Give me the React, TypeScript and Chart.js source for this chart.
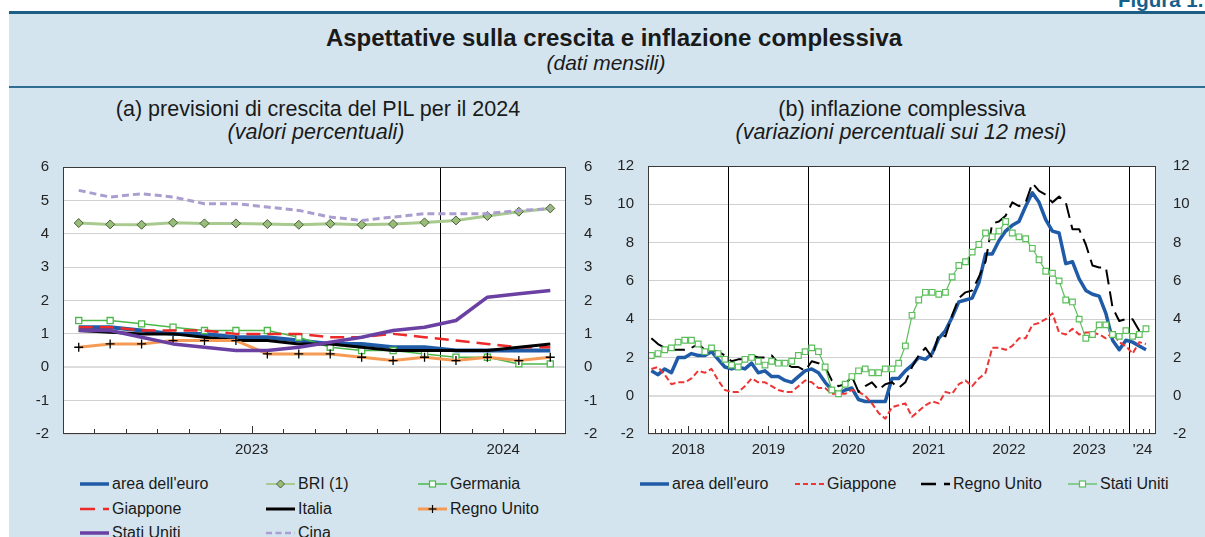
import React, { useEffect, useRef } from "react";
import { Chart, registerables } from "chart.js";

Chart.register(...registerables);

const FONT = "'Liberation Sans', Arial, Helvetica, sans-serif";
const PANEL = "#d3e4ee";
const TICK_COLOR = "#232323";

// ---------------- (a) previsioni di crescita del PIL per il 2024 ----------------
const pilMonths = [
  "2023-01", "2023-02", "2023-03", "2023-04", "2023-05", "2023-06",
  "2023-07", "2023-08", "2023-09", "2023-10", "2023-11", "2023-12",
  "2024-01", "2024-02", "2024-03", "2024-04",
];
const pilYearLabels = ["2023", "2024"];
const pilEuro = [1.2, 1.2, 1.1, 1.0, 1.0, 0.9, 0.9, 0.8, 0.7, 0.7, 0.6, 0.6, 0.5, 0.5, 0.5, 0.5];
const pilBri = [4.32, 4.28, 4.27, 4.33, 4.31, 4.31, 4.29, 4.27, 4.3, 4.27, 4.29, 4.34, 4.4, 4.53, 4.66, 4.76];
const pilGermania = [1.4, 1.4, 1.3, 1.2, 1.1, 1.1, 1.1, 0.9, 0.6, 0.5, 0.5, 0.4, 0.3, 0.3, 0.1, 0.1];
const pilGiappone = [1.2, 1.2, 1.1, 1.1, 1.1, 1.0, 1.0, 1.0, 0.9, 0.9, 1.0, 0.9, 0.8, 0.7, 0.6, 0.6];
const pilItalia = [1.1, 1.05, 1.0, 1.0, 0.9, 0.8, 0.8, 0.7, 0.7, 0.6, 0.5, 0.5, 0.5, 0.5, 0.6, 0.7];
const pilRegnoUnito = [0.6, 0.7, 0.7, 0.8, 0.8, 0.8, 0.4, 0.4, 0.4, 0.3, 0.2, 0.3, 0.2, 0.3, 0.2, 0.3];
const pilStatiUniti = [1.1, 1.1, 0.9, 0.7, 0.6, 0.5, 0.5, 0.6, 0.75, 0.9, 1.1, 1.2, 1.4, 2.1, 2.2, 2.3];
const pilCina = [5.3, 5.1, 5.2, 5.1, 4.9, 4.9, 4.8, 4.7, 4.5, 4.4, 4.5, 4.6, 4.6, 4.6, 4.7, 4.75];
const pilTicks = [-2, -1, 0, 1, 2, 3, 4, 5, 6];

// ---------------- (b) inflazione complessiva ----------------
const inflYears = ["2018", "2019", "2020", "2021", "2022", "2023", "2024"];
const monthCodes = ["01", "02", "03", "04", "05", "06", "07", "08", "09", "10", "11", "12"];
const inflLastMonth = "2024-04";
const inflYearLabels = ["2018", "2019", "2020", "2021", "2022", "2023", "'24"];
const inflEuro = [
  1.3, 1.1, 1.4, 1.2, 2.0, 2.0, 2.2, 2.1, 2.1, 2.3, 1.9, 1.5,
  1.4, 1.5, 1.4, 1.7, 1.2, 1.3, 1.0, 1.0, 0.8, 0.7, 1.0, 1.3,
  1.4, 1.2, 0.7, 0.3, 0.1, 0.3, 0.4, -0.2, -0.3, -0.3, -0.3, -0.3,
  0.9, 0.9, 1.3, 1.6, 2.0, 1.9, 2.2, 3.0, 3.4, 4.1, 4.9, 5.0,
  5.1, 5.9, 7.4, 7.4, 8.1, 8.6, 8.9, 9.1, 9.9, 10.6, 10.1, 9.2,
  8.6, 8.5, 6.9, 7.0, 6.1, 5.5, 5.3, 5.2, 4.3, 2.9, 2.4, 2.9,
  2.8, 2.6, 2.4,
];
const inflGiappone = [
  1.4, 1.5, 1.1, 0.6, 0.7, 0.7, 0.9, 1.3, 1.2, 1.4, 0.8, 0.3,
  0.2, 0.2, 0.5, 0.9, 0.7, 0.7, 0.5, 0.3, 0.2, 0.2, 0.5, 0.8,
  0.7, 0.4, 0.4, 0.1, 0.1, 0.1, 0.3, 0.2, 0.0, -0.4, -0.9, -1.2,
  -0.6, -0.5, -0.4, -1.1, -0.8, -0.5, -0.3, -0.4, 0.2, 0.1, 0.6, 0.8,
  0.5, 0.9, 1.2, 2.5, 2.5, 2.4, 2.6, 3.0, 3.0, 3.7, 3.8, 4.0,
  4.3, 3.3, 3.2, 3.5, 3.2, 3.3, 3.3, 3.2, 3.0, 3.3, 2.8, 2.6,
  2.2, 2.8, 2.7,
];
const inflRegnoUnito = [
  3.0, 2.7, 2.5, 2.4, 2.4, 2.4, 2.5, 2.7, 2.4, 2.4, 2.3, 2.1,
  1.8, 1.9, 1.9, 2.1, 2.0, 2.0, 2.1, 1.7, 1.7, 1.5, 1.5, 1.3,
  1.8, 1.7, 1.5, 0.8, 0.5, 0.6, 1.0, 0.2, 0.5, 0.7, 0.3, 0.6,
  0.7, 0.4, 0.7, 1.5, 2.1, 2.5, 2.0, 3.2, 3.1, 4.2, 5.1, 5.4,
  5.5, 6.2, 7.0, 9.0, 9.1, 9.4, 10.1, 9.9, 10.1, 11.1, 10.7, 10.5,
  10.1, 10.4, 10.1, 8.7, 8.7, 7.9, 6.8, 6.7, 6.7, 4.6, 3.9, 4.0,
  4.0, 3.4, 3.2,
];
const inflStatiUniti = [
  2.1, 2.2, 2.4, 2.5, 2.8, 2.9, 2.9, 2.7, 2.3, 2.5, 2.2, 1.9,
  1.6, 1.5, 1.9, 2.0, 1.8, 1.6, 1.8, 1.7, 1.7, 1.8, 2.1, 2.3,
  2.5, 2.3, 1.5, 0.3, 0.1, 0.6, 1.0, 1.3, 1.4, 1.2, 1.2, 1.4,
  1.4, 1.7, 2.6, 4.2, 5.0, 5.4, 5.4, 5.3, 5.4, 6.2, 6.8, 7.0,
  7.5, 7.9, 8.5, 8.3, 8.6, 9.1, 8.5, 8.3, 8.2, 7.7, 7.1, 6.5,
  6.4, 6.0, 5.0, 4.9, 4.0, 3.0, 3.2, 3.7, 3.7, 3.2, 3.1, 3.4,
  3.1, 3.2, 3.5,
];
const inflTicks = [-2, 0, 2, 4, 6, 8, 10, 12];

const inflMonths = inflYears
  .flatMap((y) => monthCodes.map((m) => `${y}-${m}`))
  .filter((m) => m <= inflLastMonth);

type SeriesStyle = {
  label: string;
  values: number[];
  color: string;
  width: number;
  dash?: number[];
  legendWidth?: number;
  legendDash?: string;
  point?: "rect" | "rectRot" | "cross";
  radius?: number;
  pointFill?: string;
  pointStroke?: string;
  pointStrokeWidth?: number;
};

const pilSeries: SeriesStyle[] = [
  { label: "area dell'euro", values: pilEuro, color: "#1f5ba7", width: 4, legendWidth: 3.5 },
  {
    label: "BRI (1)", values: pilBri, color: "#a8ca8e", width: 3, legendWidth: 2,
    point: "rectRot", radius: 4.5, pointFill: "#97bd79", pointStroke: "#4a5c3b", pointStrokeWidth: 1,
  },
  {
    label: "Germania", values: pilGermania, color: "#4cb84a", width: 1.5, legendWidth: 1.5,
    point: "rect", radius: 4.3, pointFill: "#ffffff", pointStroke: "#4cb84a", pointStrokeWidth: 1.3,
  },
  { label: "Giappone", values: pilGiappone, color: "#ec2a2a", width: 2.5, dash: [14, 7], legendWidth: 2.5, legendDash: "15 8" },
  { label: "Italia", values: pilItalia, color: "#000000", width: 3, legendWidth: 3 },
  {
    label: "Regno Unito", values: pilRegnoUnito, color: "#f59b55", width: 3, legendWidth: 3,
    point: "cross", radius: 4.5, pointFill: "#000000", pointStroke: "#000000", pointStrokeWidth: 1.3,
  },
  { label: "Stati Uniti", values: pilStatiUniti, color: "#6a40a3", width: 3.5, legendWidth: 3.5 },
  { label: "Cina", values: pilCina, color: "#aa9ed0", width: 3, dash: [7, 4], legendWidth: 2.5, legendDash: "6 3.5" },
];

const inflSeries: SeriesStyle[] = [
  { label: "area dell'euro", values: inflEuro, color: "#1f5ba7", width: 3.5, legendWidth: 3.5 },
  { label: "Giappone", values: inflGiappone, color: "#ee3535", width: 2, dash: [6, 3], legendWidth: 2, legendDash: "5 3" },
  { label: "Regno Unito", values: inflRegnoUnito, color: "#000000", width: 2, dash: [15, 7], legendWidth: 2.5, legendDash: "15 8" },
  {
    label: "Stati Uniti", values: inflStatiUniti, color: "#5cbf5c", width: 1.2, legendWidth: 1.3,
    point: "rect", radius: 4, pointFill: "#ffffff", pointStroke: "#5cbf5c", pointStrokeWidth: 1.2,
  },
];

function yearGroups(months: string[]) {
  const groups: { year: string; first: number; last: number }[] = [];
  months.forEach((m, i) => {
    const y = m.slice(0, 4);
    const g = groups[groups.length - 1];
    if (g && g.year === y) g.last = i;
    else groups.push({ year: y, first: i, last: i });
  });
  return groups;
}

const decoPlugin = {
  id: "deco",
  beforeDraw(chart: any) {
    const { ctx, chartArea: a } = chart;
    ctx.save();
    ctx.fillStyle = "#ffffff";
    ctx.fillRect(a.left, a.top, a.right - a.left, a.bottom - a.top);
    ctx.restore();
  },
  beforeDatasetsDraw(chart: any, _args: any, opts: any) {
    const { ctx, chartArea: a, scales } = chart;
    ctx.save();
    ctx.strokeStyle = "#000000";
    ctx.lineWidth = 1;
    for (const b of opts.yearLines) {
      const px = Math.round(scales.x.getPixelForValue(b)) + 0.5;
      ctx.beginPath();
      ctx.moveTo(px, a.top);
      ctx.lineTo(px, a.bottom);
      ctx.stroke();
    }
    ctx.restore();
  },
  afterDatasetsDraw(chart: any, _args: any, opts: any) {
    const { ctx, chartArea: a, scales } = chart;
    ctx.save();
    ctx.strokeStyle = "#333333";
    ctx.lineWidth = 1;
    for (let k = 1; k < opts.count; k++) {
      const b = k - 0.5;
      if (opts.yearLines.includes(b)) continue;
      const len = opts.tall.includes(b) ? 8 : 5;
      const px = Math.round(scales.x.getPixelForValue(b)) + 0.5;
      ctx.beginPath();
      ctx.moveTo(px, a.bottom);
      ctx.lineTo(px, a.bottom - len);
      ctx.stroke();
    }
    ctx.strokeStyle = "#3a3a3a";
    ctx.strokeRect(
      Math.round(a.left) + 0.5,
      Math.round(a.top) + 0.5,
      Math.round(a.right - a.left) - 1,
      Math.round(a.bottom - a.top) - 1
    );
    ctx.restore();
  },
};

type ChartSpec = {
  months: string[];
  yearLabels: string[];
  series: SeriesStyle[];
  yTicks: number[];
  leftWidth: number;
  rightWidth: number;
  leftPad: number;
  rightPad: number;
  topPad: number;
  xHeight: number;
};

function makeChart(canvas: HTMLCanvasElement, spec: ChartSpec) {
  const groups = yearGroups(spec.months);
  const centers = groups.map((g) => (g.first + g.last) / 2);
  const yearLines = groups.slice(1).map((g) => g.first - 0.5);
  const tall = groups.filter((g) => g.last - g.first === 11).map((g) => (g.first + g.last) / 2);
  const yMin = spec.yTicks[0];
  const yMax = spec.yTicks[spec.yTicks.length - 1];
  const step = spec.yTicks[1] - spec.yTicks[0];
  const tickFont = { family: FONT, size: 15 };

  const datasets = spec.series.map((s, i) => ({
    label: s.label,
    data: s.values.map((v, j) => ({ x: j, y: v })),
    borderColor: s.color,
    backgroundColor: s.color,
    borderWidth: s.width,
    borderDash: s.dash || [],
    borderJoinStyle: "round" as const,
    borderCapStyle: "butt" as const,
    fill: false,
    tension: 0,
    order: -i,
    pointStyle: s.point || "circle",
    pointRadius: s.point ? s.radius : 0,
    pointHoverRadius: s.point ? s.radius : 0,
    pointBackgroundColor: s.pointFill,
    pointBorderColor: s.pointStroke,
    pointBorderWidth: s.pointStrokeWidth,
  }));

  return new Chart(canvas, {
    type: "line",
    data: { datasets },
    plugins: [decoPlugin],
    options: {
      responsive: false,
      animation: false,
      devicePixelRatio: 1,
      events: [],
      layout: { padding: { top: spec.topPad, left: 0, right: 0, bottom: 0 } },
      plugins: {
        legend: { display: false },
        tooltip: { enabled: false },
        deco: { yearLines, tall, count: spec.months.length },
      } as any,
      scales: {
        x: {
          type: "linear",
          min: -0.5,
          max: spec.months.length - 0.5,
          afterBuildTicks: (axis: any) => {
            axis.ticks = centers.map((v) => ({ value: v }));
          },
          afterFit: (s: any) => {
            s.height = spec.xHeight;
          },
          ticks: {
            autoSkip: false,
            maxRotation: 0,
            minRotation: 0,
            padding: 7,
            color: TICK_COLOR,
            font: tickFont,
            callback: (_v: any, i: number) => spec.yearLabels[i],
          },
          grid: { display: false, drawTicks: false },
          border: { display: false },
        },
        y: {
          type: "linear",
          position: "left",
          min: yMin,
          max: yMax,
          afterFit: (s: any) => {
            s.width = spec.leftWidth;
          },
          ticks: { stepSize: step, padding: spec.leftPad, color: TICK_COLOR, font: tickFont },
          grid: {
            drawTicks: false,
            color: (c: any) => (c.tick && c.tick.value === 0 ? "#dcdcdc" : "#d0d0d0"),
            lineWidth: (c: any) => (c.tick && c.tick.value === 0 ? 2 : 1),
          },
          border: { display: false },
        },
        y2: {
          type: "linear",
          position: "right",
          min: yMin,
          max: yMax,
          afterFit: (s: any) => {
            s.width = spec.rightWidth;
          },
          ticks: { stepSize: step, padding: spec.rightPad, color: TICK_COLOR, font: tickFont },
          grid: { display: false, drawTicks: false },
          border: { display: false },
        },
      },
    } as any,
  });
}

function Txt(props: {
  x: number;
  baseline: number;
  size: number;
  bold?: boolean;
  italic?: boolean;
  center?: boolean;
  color?: string;
  children: React.ReactNode;
}) {
  const top = props.baseline - props.size * 0.8465;
  return (
    <div
      style={{
        position: "absolute",
        left: props.x,
        top,
        fontSize: props.size,
        lineHeight: 1,
        fontWeight: props.bold ? "bold" : "normal",
        fontStyle: props.italic ? "italic" : "normal",
        whiteSpace: "nowrap",
        transform: props.center ? "translateX(-50%)" : undefined,
        color: props.color || "#1a1a1a",
      }}
    >
      {props.children}
    </div>
  );
}

function LegendSample({ s }: { s: SeriesStyle }) {
  const w = 29;
  const h = 14;
  const cy = 7;
  const cx = w / 2;
  let marker: React.ReactNode = null;
  if (s.point === "rect") {
    marker = <rect x={cx - 3} y={cy - 3} width={6} height={6} fill="#ffffff" stroke={s.pointStroke} strokeWidth={1.2} />;
  } else if (s.point === "rectRot") {
    marker = (
      <polygon
        points={`${cx - 4},${cy} ${cx},${cy - 4} ${cx + 4},${cy} ${cx},${cy + 4}`}
        fill={s.pointFill}
        stroke={s.pointStroke}
        strokeWidth={1}
      />
    );
  } else if (s.point === "cross") {
    marker = (
      <g stroke="#000" strokeWidth={1.2}>
        <line x1={cx - 4} y1={cy} x2={cx + 4} y2={cy} />
        <line x1={cx} y1={cy - 4} x2={cx} y2={cy + 4} />
      </g>
    );
  }
  return (
    <svg width={w} height={h} style={{ display: "block", flex: "none" }}>
      <line
        x1={0}
        y1={cy}
        x2={w}
        y2={cy}
        stroke={s.color}
        strokeWidth={s.legendWidth || s.width}
        strokeDasharray={s.legendDash}
      />
      {marker}
    </svg>
  );
}

function LegendItem({ s, x, cy }: { s: SeriesStyle; x: number; cy: number }) {
  return (
    <div
      style={{
        position: "absolute",
        left: x,
        top: cy - 10,
        height: 20,
        display: "flex",
        alignItems: "center",
        whiteSpace: "nowrap",
        fontSize: 16,
        lineHeight: "20px",
        color: "#1a1a1a",
      }}
    >
      <LegendSample s={s} />
      <span style={{ marginLeft: 3 }}>{s.label}</span>
    </div>
  );
}

const leftLegendCols = [80, 266, 418];
const leftLegendRows = [484, 508.5, 532.5];
const rightLegendCols = [640, 795, 921, 1068];

export default function App() {
  const leftRef = useRef<HTMLCanvasElement>(null);
  const rightRef = useRef<HTMLCanvasElement>(null);

  useEffect(() => {
    const c1 = makeChart(leftRef.current as HTMLCanvasElement, {
      months: pilMonths,
      yearLabels: pilYearLabels,
      series: pilSeries,
      yTicks: pilTicks,
      leftWidth: 63,
      rightWidth: 34,
      leftPad: 14,
      rightPad: 18,
      topPad: 13,
      xHeight: 36,
    });
    const c2 = makeChart(rightRef.current as HTMLCanvasElement, {
      months: inflMonths,
      yearLabels: inflYearLabels,
      series: inflSeries,
      yTicks: inflTicks,
      leftWidth: 48,
      rightWidth: 49,
      leftPad: 14,
      rightPad: 17,
      topPad: 13,
      xHeight: 36,
    });
    return () => {
      c1.destroy();
      c2.destroy();
    };
  }, []);

  return (
    <div
      style={{
        position: "fixed",
        left: 0,
        top: 0,
        width: 1205,
        height: 537,
        overflow: "hidden",
        background: "#ffffff",
        fontFamily: FONT,
      }}
    >
      <div style={{ position: "absolute", left: 9, top: 14, right: 0, bottom: 0, background: PANEL }} />
      <div style={{ position: "absolute", left: 9, top: 11, right: 0, height: 3, background: "#1d5e85" }} />
      <div style={{ position: "absolute", left: 9, top: 86, right: 0, height: 2, background: "#2f6d92" }} />

      <Txt x={1118} baseline={7.5} size={20.5} bold color="#17608a">
        Figura 1.
      </Txt>
      <Txt x={614} baseline={46} size={24} bold center>
        Aspettative sulla crescita e inflazione complessiva
      </Txt>
      <Txt x={606} baseline={70} size={21} italic center>
        (dati mensili)
      </Txt>

      <Txt x={318} baseline={117} size={21.5} center>
        (a) previsioni di crescita del PIL per il 2024
      </Txt>
      <Txt x={316} baseline={140} size={21.5} italic center>
        (valori percentuali)
      </Txt>
      <Txt x={902} baseline={117} size={21.5} center>
        (b) inflazione complessiva
      </Txt>
      <Txt x={901} baseline={140} size={21.5} italic center>
        (variazioni percentuali sui 12 mesi)
      </Txt>

      <canvas
        ref={leftRef}
        width={600}
        height={330}
        style={{ position: "absolute", left: 0, top: 140, width: 600, height: 330 }}
      />
      <canvas
        ref={rightRef}
        width={605}
        height={330}
        style={{ position: "absolute", left: 600, top: 140, width: 605, height: 330 }}
      />

      {pilSeries.map((s, i) => (
        <LegendItem key={"l" + i} s={s} x={leftLegendCols[i % 3]} cy={leftLegendRows[Math.floor(i / 3)]} />
      ))}
      {inflSeries.map((s, i) => (
        <LegendItem key={"r" + i} s={s} x={rightLegendCols[i]} cy={484} />
      ))}
    </div>
  );
}
